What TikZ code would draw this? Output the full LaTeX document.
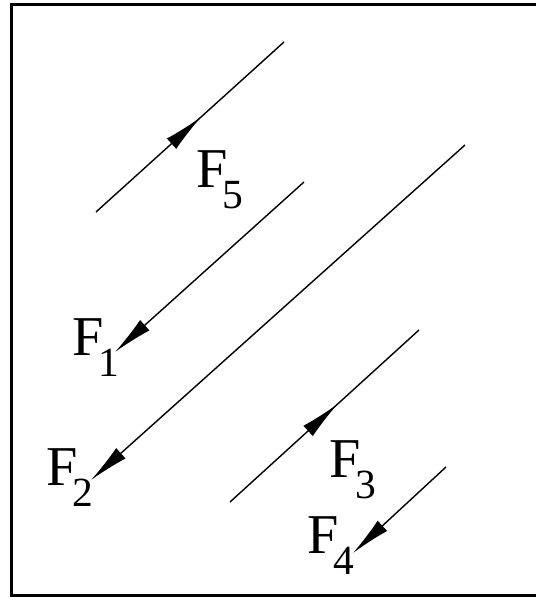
\documentclass[tikz,border=0pt]{standalone}
\usepackage{fontspec}
\setmainfont{Liberation Serif}
\usetikzlibrary{arrows.meta,decorations.markings}
\newcommand{\Fsub}[1]{F\kern-0.1em\raisebox{-6pt}{\fontsize{11.8}{12}\selectfont #1}}

\begin{document}
\begin{tikzpicture}[x=0.01cm,y=-0.01cm,>={Latex[length=4mm,width=1.4mm]},
  force/.style={line width=0.4pt},
  midarrow/.style={postaction={decorate},decoration={markings,mark=at position #1 with {\arrow{>}}}},
  flabel/.style={anchor=base west,inner sep=0pt,font=\fontsize{16}{18}\selectfont}]
  \useasboundingbox (0,0) rectangle (536,597);
  \draw[line width=0.85pt] (536,4.5) -- (11.5,4.5) -- (11.5,595.5) -- (536,595.5);
  \coordinate (low5) at (96,212);
  \coordinate (up5) at (284,42);
  \coordinate (up1) at (304,182);
  \coordinate (tip1) at (115,352);
  \coordinate (up2) at (465,145);
  \coordinate (tip2) at (91,480);
  \coordinate (low3) at (230,502);
  \coordinate (up3) at (419,330);
  \coordinate (up4) at (446,467);
  \coordinate (tip4) at (353,553);
  \draw[force,midarrow=0.56] (low5) -- (up5);
  \draw[force,->] (up1) -- (tip1);
  \draw[force,->] (up2) -- (tip2);
  \draw[force,midarrow=0.57] (low3) -- (up3);
  \draw[force,->] (up4) -- (tip4);
  \node[flabel] (lab5) at (196,187) {\Fsub{5}};
  \node[flabel] (lab1) at (72,355) {\Fsub{1}};
  \node[flabel] (lab2) at (46,485) {\Fsub{2}};
  \node[flabel] (lab3) at (329,477) {\Fsub{3}};
  \node[flabel] (lab4) at (307,553) {\Fsub{4}};
\end{tikzpicture}
\end{document}
